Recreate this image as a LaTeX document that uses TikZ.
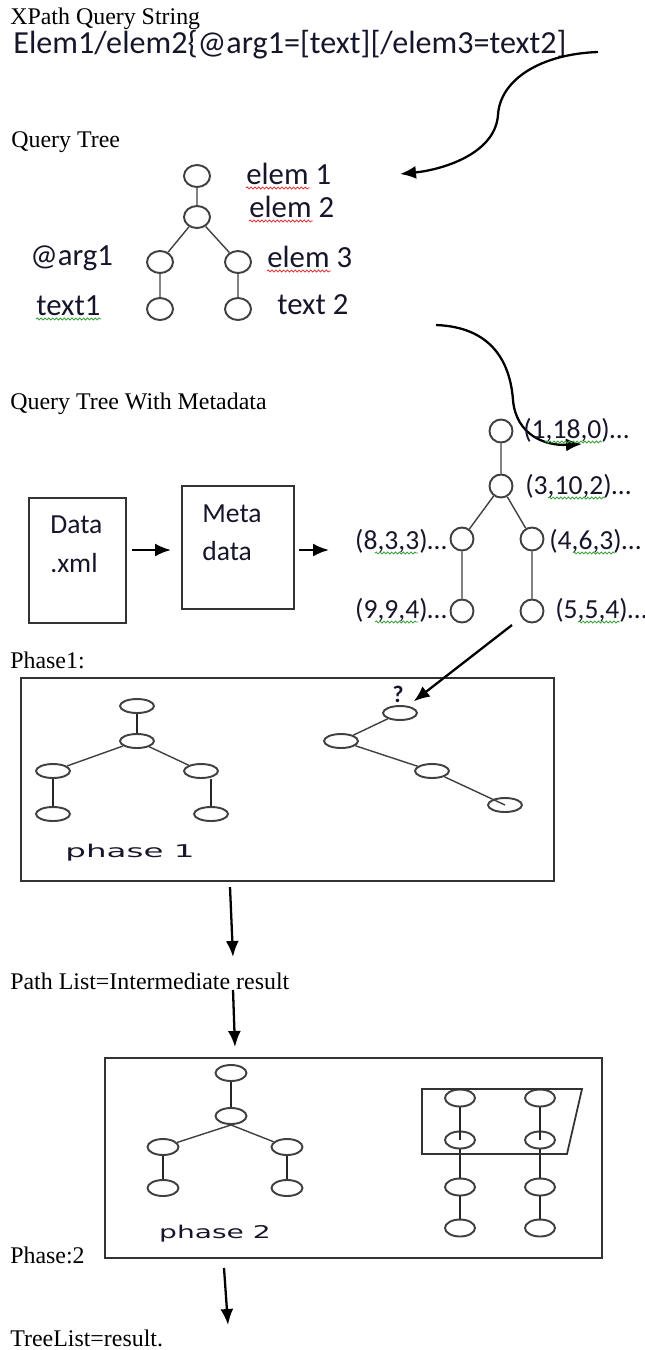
\documentclass[tikz,border=0pt]{standalone}
\usepackage{fontspec}
\setmainfont{Liberation Serif}
\newfontfamily\calfont{Carlito}
\newfontfamily\dvfont{DejaVu Sans}
\usepackage{tikz}
\usetikzlibrary{arrows.meta,shapes.geometric,decorations.pathmorphing}

\definecolor{ink}{HTML}{16162A}
\definecolor{edgegray}{HTML}{404040}
\definecolor{spellred}{HTML}{E23B3B}
\definecolor{spellgreen}{HTML}{3BA33B}

\tikzset{
  arr/.style={-{Latex[length=0.32cm,width=0.26cm]}, line width=1.3pt},
  framebox/.style={draw=black!80, line width=1pt, inner sep=0pt, anchor=north west},
  tedge/.style={draw=edgegray, line width=0.8pt},
  qv/.style={ellipse, draw=edgegray, line width=1.1pt, inner sep=0pt, minimum width=0.52cm, minimum height=0.44cm},
  mv/.style={qv, minimum width=0.46cm, minimum height=0.46cm},
  pv/.style={qv, minimum width=0.68cm, minimum height=0.28cm},
  rv/.style={qv, minimum width=0.62cm, minimum height=0.32cm},
  captxt/.style={anchor=base west, inner sep=0pt, font=\fontsize{13.6}{16}\selectfont},
  callbl/.style={anchor=base west, inner sep=0pt, text=ink, font=\calfont\fontsize{17.5}{20}\selectfont},
  numlbl/.style={callbl, font=\calfont\fontsize{15.7}{18}\selectfont},
  redsq/.style={draw=spellred, line width=0.5pt, decorate, decoration={snake, segment length=2.2pt, amplitude=0.55pt}},
  greensq/.style={redsq, draw=spellgreen}
}

\begin{document}
\begin{tikzpicture}[x=0.02cm, y=-0.02cm]
    \useasboundingbox (0,0) rectangle (645,1350);

    % 查询字符串
    \node[captxt] (xpt) at (10,24) {XPath Query String};
    \node[callbl, font=\calfont\fontsize{18.3}{21}\selectfont] (qstr) at (13,53) {Elem1/elem2\{@arg1=[text][/elem3=text2]};

    % 查询树
    \node[captxt] (qtt) at (11,147) {Query Tree};
    \node[qv] (e1) at (197,176) {};
    \node[qv] (e2) at (197,217) {};
    \node[qv] (ea) at (160,262) {};
    \node[qv] (e3) at (238,262) {};
    \node[qv] (t1) at (160,309) {};
    \node[qv] (t2) at (238,309) {};
    \draw[tedge] (e1) -- (e2) (e2) -- (ea) (e2) -- (e3) (ea) -- (t1) (e3) -- (t2);

    \node[callbl] (le1) at (246,184) {elem 1};
    \node[callbl] (le2) at (249,217) {elem 2};
    \node[callbl] (la) at (30,265) {@arg1};
    \node[callbl] (le3) at (267,267) {elem 3};
    \node[callbl] (lt1) at (36,315) {text1};
    \node[callbl] (lt2) at (277,314) {text 2};
    \draw[redsq] (246,188) -- (310,188);
    \draw[redsq] (249,221) -- (313,221);
    \draw[redsq] (267,271) -- (331,271);
    \draw[greensq] (36,319) -- (101,319);

    % 弯箭头
    \coordinate (c1s) at (598,52);
    \coordinate (c1e) at (400,174);
    \draw[arr] (c1s) .. controls (540,54) and (500,80) .. (498,115)
        .. controls (495,155) and (440,170) .. (c1e);
    \coordinate (c2s) at (436,325);
    \coordinate (c2e) at (582,444);
    \draw[arr] (c2s) .. controls (490,327) and (510,360) .. (513,400)
        .. controls (516,435) and (545,446) .. (c2e);

    % 带元数据的查询树
    \node[captxt] (qtm) at (10,409) {Query Tree With Metadata};
    \node[framebox, minimum width=1.94cm, minimum height=2.5cm] (dbox) at (28,497) {};
    \node[framebox, minimum width=2.24cm, minimum height=2.46cm] (mbox) at (181,485) {};
    \node[numlbl] (dt1) at (50,533) {Data};
    \node[numlbl] (dt2) at (50,572) {.xml};
    \node[numlbl] (mt1) at (202,522) {Meta};
    \node[numlbl] (mt2) at (202,560) {data};
    \coordinate (a1e) at (171,550);
    \coordinate (a2e) at (329,550);
    \draw[arr] (dbox.east |- a1e) ++(5,0) -- (a1e);
    \draw[arr] (mbox.east |- a2e) ++(4,0) -- (a2e);

    \node[mv] (m1) at (501,431) {};
    \node[mv] (m2) at (501,486) {};
    \node[mv] (m3) at (462,539) {};
    \node[mv] (m4) at (532,539) {};
    \node[mv] (m5) at (462,611) {};
    \node[mv] (m6) at (532,611) {};
    \draw[tedge] (m1) -- (m2) (m2) -- (m3) (m2) -- (m4) (m3) -- (m5) (m4) -- (m6);
    \node[numlbl] (n1) at (523,438) {(1,18,0)…};
    \node[numlbl] (n2) at (525,494) {(3,10,2)…};
    \node[numlbl, anchor=base east] (n3) at (447,549) {(8,3,3)…};
    \node[numlbl] (n4) at (549,549) {(4,6,3)…};
    \node[numlbl, anchor=base east] (n5) at (447,618) {(9,9,4)…};
    \node[numlbl] (n6) at (555,618) {(5,5,4)…};
    \draw[greensq] (545,442) -- (602,442);
    \draw[greensq] (548,498) -- (605,498);
    \draw[greensq] (375,553) -- (418,553);
    \draw[greensq] (573,553) -- (615,553);
    \draw[greensq] (375,622) -- (418,622);
    \draw[greensq] (578,622) -- (620,622);

    % 第一阶段
    \node[captxt] (ph1t) at (10,668) {Phase1:};
    \node[framebox, minimum width=10.66cm, minimum height=4.06cm] (ph1) at (20,677) {};
    \node[pv] (p1) at (137,706) {};
    \node[pv] (p2) at (137,741) {};
    \node[pv] (p3) at (53,771) {};
    \node[pv] (p4) at (201,771) {};
    \node[pv] (p5) at (53,814) {};
    \node[pv] (p6) at (211,814) {};
    \draw[tedge] (p2) -- (p3) (p2) -- (p4);
    \draw[tedge, line width=1.1pt, draw=black!85] (p1) -- (p2) (p3) -- (p5) (p6.north) -- (p6.north |- p4.south);
    \node[anchor=base, inner sep=0pt, text=ink] (ph1l) at (130,857)
        {\scalebox{1.85}[1]{\dvfont\fontsize{10}{12}\selectfont phase 1}};

    \node[pv] (q1) at (400,713) {};
    \node[pv] (q2) at (341,741) {};
    \node[pv] (q3) at (432,771) {};
    \node[pv] (q4) at (505,805) {};
    \draw[tedge] (q1) -- (q2) (q2) -- (q3) (q3) -- (q4.center);
    \node[anchor=base, inner sep=0pt, text=ink, font=\calfont\bfseries\fontsize{13.5}{15}\selectfont] (qm) at (398,702) {?};
    \coordinate (a3s) at (512,625);
    \draw[arr] (a3s) -- ([xshift=0.02cm, yshift=0.12cm]q1.north east);

    % 中间结果
    \coordinate (aAs) at (230,887);
    \coordinate (aAe) at (233,957);
    \draw[arr] (aAs) -- (aAe);
    \node[captxt] (plist) at (10,989) {Path List=Intermediate result};
    \coordinate (aBs) at (233,990);
    \coordinate (aBe) at (235,1047);
    \draw[arr] (aBs) -- (aBe);

    % 第二阶段
    \node[framebox, minimum width=9.94cm, minimum height=4cm] (ph2) at (104,1057) {};
    \node[rv] (r1) at (231,1073) {};
    \node[rv] (r2) at (231,1116) {};
    \node[rv] (r3) at (163,1147) {};
    \node[rv] (r4) at (287,1147) {};
    \node[rv] (r5) at (163,1188) {};
    \node[rv] (r6) at (287,1188) {};
    \draw[tedge] (r2.south) -- (r3) (r2.south) -- (r4);
    \draw[tedge, line width=1.1pt, draw=black!85] (r1) -- (r2) (r3) -- (r5) (r4) -- (r6);
    \node[anchor=base, inner sep=0pt, text=ink] (ph2l) at (215,1238)
        {\scalebox{1.6}[1]{\dvfont\fontsize{10}{12}\selectfont phase 2}};

    \foreach \c/\xx in {a/460,b/540} {
        \foreach \r/\yy in {1/1098,2/1140,3/1187,4/1228}
            \node[rv, minimum width=0.6cm, minimum height=0.34cm] (s\c\r) at (\xx,\yy) {};
        \draw[tedge, line width=1.1pt, draw=black!85] (s\c1) -- (s\c2.center) (s\c2) -- (s\c3) (s\c3) -- (s\c4);
    }
    \draw[line width=1pt, draw=black!80] (422,1089) -- (582,1089) -- (567,1154) -- (422,1154) -- cycle;

    \node[captxt] (ph2t) at (10,1263) {Phase:2};
    \coordinate (aCs) at (224,1268);
    \coordinate (aCe) at (228,1325);
    \draw[arr] (aCs) -- (aCe);
    \node[captxt] (tlist) at (10,1346) {TreeList=result.};

\end{tikzpicture}
\end{document}
